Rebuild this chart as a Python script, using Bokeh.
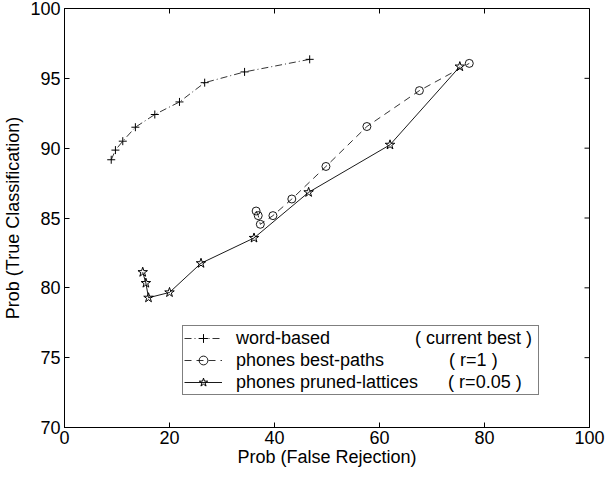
import math
from bokeh.plotting import figure
from bokeh.models import Legend, LegendItem, Range1d, FixedTicker
from bokeh.embed import file_html
from bokeh.resources import INLINE

# ---- data ----
word_x = [8.9, 9.7, 11.1, 13.5, 17.2, 21.9, 26.7, 34.3, 46.7]
word_y = [89.17, 89.86, 90.5, 91.5, 92.41, 93.31, 94.69, 95.46, 96.36]
best_x = [36.5, 36.9, 37.3, 39.7, 43.3, 49.8, 57.6, 67.6, 77.1]
best_y = [85.5, 85.17, 84.55, 85.17, 86.36, 88.69, 91.55, 94.12, 96.07]
latt_x = [14.9, 15.5, 16.0, 20.0, 26.0, 36.1, 46.5, 62.0, 75.3]
latt_y = [81.12, 80.34, 79.29, 79.67, 81.76, 83.57, 86.84, 90.24, 95.84]
x_ticks = [0, 20, 40, 60, 80, 100]
y_ticks = [70, 75, 80, 85, 90, 95, 100]
x_lim = (0, 100)
y_lim = (70, 100)
labels = ["word-based", "phones best-paths", "phones pruned-lattices"]
notes = ["( current best )", "( r=1 )", "( r=0.05 )"]

FONT = "Liberation Sans"
FS = "18px"

p = figure(width=605, height=471, output_backend="svg", toolbar_location=None,
           x_range=Range1d(*x_lim), y_range=Range1d(*y_lim),
           x_axis_label="Prob (False Rejection)",
           y_axis_label="Prob (True Classification)")
p.min_border_left = 57
p.min_border_right = 16
p.min_border_top = 8
p.min_border_bottom = 44
p.grid.visible = False
p.outline_line_color = "black"
p.outline_line_width = 1
p.background_fill_color = "white"
p.border_fill_color = "white"

p.xaxis.ticker = FixedTicker(ticks=x_ticks)
p.yaxis.ticker = FixedTicker(ticks=y_ticks)
for ax in (p.xaxis[0], p.yaxis[0]):
    ax.major_tick_in = 5
    ax.major_tick_out = 0
    ax.minor_tick_line_color = None
    ax.axis_line_color = "black"
    ax.major_tick_line_color = "black"
    ax.major_label_text_font = FONT
    ax.major_label_text_font_size = FS
    ax.major_label_text_color = "black"
    ax.axis_label_text_font = FONT
    ax.axis_label_text_font_size = FS
    ax.axis_label_text_font_style = "normal"
    ax.axis_label_text_color = "black"
p.xaxis.major_label_standoff = 3
p.xaxis.axis_label_standoff = 0
p.yaxis.major_label_standoff = 4
p.yaxis.axis_label_standoff = 4

# mirrored inward ticks on the top and right edges (clipped to the frame)
p.scatter(x_ticks, [y_lim[1]] * len(x_ticks), marker="dash", angle=math.pi / 2,
          size=10, line_color="black", line_width=1)
p.scatter([x_lim[1]] * len(y_ticks), y_ticks, marker="dash",
          size=10, line_color="black", line_width=1)

r1l = p.line(word_x, word_y, line_color="black", line_width=0.8, line_dash="7 3 1 3")
r1m = p.scatter(word_x, word_y, marker="cross", size=8, line_color="black", line_width=1)
r2l = p.line(best_x, best_y, line_color="black", line_width=0.8, line_dash="7 5")
r2m = p.scatter(best_x, best_y, marker="circle", size=8, line_color="black",
                fill_color=None, line_width=0.9)
r3l = p.line(latt_x, latt_y, line_color="black", line_width=0.9)
r3m = p.scatter(latt_x, latt_y, marker="star", size=10, line_color="black",
                fill_color=None, line_width=1)

nb = "\u00a0"
leg_labels = [
    labels[0] + nb * 17 + notes[0] + nb,
    labels[1] + nb * 13 + notes[1],
    labels[2] + nb * 6 + notes[2],
]
legend = Legend(items=[
    LegendItem(label=leg_labels[0], renderers=[r1l, r1m]),
    LegendItem(label=leg_labels[1], renderers=[r2l, r2m]),
    LegendItem(label=leg_labels[2], renderers=[r3l, r3m]),
], location=(118, 32))
legend.label_text_font = FONT
legend.label_text_font_size = FS
legend.label_text_color = "black"
legend.glyph_width = 38
legend.glyph_height = 22
legend.label_height = 22
legend.label_standoff = 14
legend.padding = 1
legend.spacing = 0
legend.margin = 0
legend.border_line_color = "black"
legend.border_line_width = 1
legend.background_fill_alpha = 1
p.add_layout(legend, "center")

open("out.html", "w").write(file_html(p, INLINE))
